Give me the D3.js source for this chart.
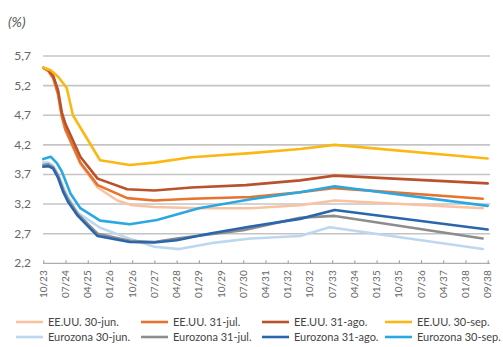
<!DOCTYPE html>
<html>
<head>
<meta charset="utf-8">
<script src="https://cdn.jsdelivr.net/npm/d3@7/dist/d3.min.js"></script>
<style>
  html, body { margin: 0; padding: 0; background: #fff; }
  svg { display: block; font-family: Lato, "Open Sans", sans-serif; }
</style>
</head>
<body>
<svg id="chart" width="503" height="347"></svg>
<script>
// Horizon in months from 10/23; tick labels every 9 months
const xLabels = ["10/23","07/24","04/25","01/26","10/26","07/27","04/28","01/29","10/29","07/30",
  "04/31","01/32","10/32","07/33","04/34","01/35","10/35","07/36","04/37","01/38","09/38"];
const yTicks = [2.2, 2.7, 3.2, 3.7, 4.2, 4.7, 5.2, 5.7];

// [month, rate %]
const usJun = [[0,5.50],[2,5.45],[4,5.33],[6,5.05],[7.5,4.68],[9,4.45],[15,3.88],[22,3.48],[30,3.26],[36,3.18],[45,3.15],[63,3.13],[84,3.13],[104,3.18],[118,3.26],[178,3.13]];
const usJul = [[0,5.50],[2,5.45],[4,5.33],[6,5.05],[7.5,4.68],[9,4.45],[15,3.90],[22,3.52],[34,3.30],[45,3.26],[60,3.29],[84,3.32],[104,3.40],[118,3.47],[178,3.29]];
const usAgo = [[0,5.50],[2,5.47],[4,5.37],[6,5.12],[7.5,4.75],[9,4.55],[15,4.00],[22,3.63],[34,3.45],[45,3.43],[60,3.48],[82,3.52],[104,3.60],[118,3.68],[180,3.55]];
const usSep = [[0,5.50],[3,5.46],[6,5.35],[9.5,5.16],[12,4.70],[23,3.94],[35,3.86],[45,3.90],[60,3.99],[84,4.06],[104,4.13],[118,4.20],[180,3.97]];
const euJun = [[0,3.90],[2,3.90],[4,3.85],[6,3.70],[8,3.50],[10,3.32],[14,3.05],[23,2.80],[36,2.60],[45,2.48],[55,2.44],[68,2.54],[84,2.62],[104,2.66],[116,2.81],[178,2.44]];
const euJul = [[0,3.86],[2,3.87],[4,3.82],[6,3.68],[8,3.45],[10,3.28],[14,3.03],[22,2.70],[35,2.58],[45,2.56],[54,2.62],[81,2.76],[104,2.97],[118,3.00],[178,2.62]];
const euAgo = [[0,3.83],[2,3.84],[4,3.80],[6,3.64],[8,3.41],[10,3.24],[14,3.00],[22,2.66],[35,2.56],[45,2.55],[54,2.59],[67,2.70],[84,2.82],[104,2.95],[118,3.10],[180,2.77]];
const euSep = [[0,3.96],[3,4.00],[5.5,3.89],[7.5,3.75],[11,3.38],[15,3.13],[23,2.92],[35,2.86],[46,2.93],[63,3.13],[84,3.28],[104,3.40],[118,3.50],[180,3.17]];

const seriesNames = ["EE.UU. 30-jun.","EE.UU. 31-jul.","EE.UU. 31-ago.","EE.UU. 30-sep.",
  "Eurozona 30-jun.","Eurozona 31-jul.","Eurozona 31-ago.","Eurozona 30-sep."];
const seriesData = [usJun, usJul, usAgo, usSep, euJun, euJul, euAgo, euSep];
const seriesColors = ["#f9c3a2","#e8732d","#b9522b","#fbb813","#bdd7ef","#8d8d8d","#2966ad","#2aa8e2"];

const svg = d3.select("#chart");
const x = d3.scaleLinear().domain([0, 180]).range([43.3, 487.7]);
const y = d3.scaleLinear().domain([2.2, 5.7]).range([263.3, 56]);
const fmt = d => d.toFixed(1).replace(".", ",");

// Unit label
svg.append("text").attr("x", 8).attr("y", 27)
  .attr("font-size", 14).attr("font-style", "italic").attr("fill", "#555").text("(%)");

// Horizontal gridlines
svg.append("g").selectAll("line").data(yTicks.filter(d => d > 2.2)).join("line")
  .attr("x1", 43).attr("x2", 490)
  .attr("y1", d => y(d)).attr("y2", d => y(d))
  .attr("stroke", "#c4c4c4").attr("stroke-width", 1.6);

// Y tick labels
svg.append("g").selectAll("text").data(yTicks).join("text")
  .attr("x", 31).attr("y", d => y(d) + 4)
  .attr("text-anchor", "end").attr("font-size", 12).attr("fill", "#666")
  .text(fmt);

// X axis with small upward ticks
const xAxis = d3.axisTop(x)
  .tickValues(xLabels.map((d, i) => i * 9))
  .tickSize(3).tickSizeOuter(0).tickFormat("");
const ax = svg.append("g").attr("transform", `translate(0,${y(2.2)})`).call(xAxis);
ax.select(".domain").attr("stroke", "#9a9a9a").attr("stroke-width", 1)
  .attr("d", `M43,0H490`);
ax.selectAll(".tick line").attr("stroke", "#9a9a9a");

svg.append("g").selectAll("text").data(xLabels).join("text")
  .attr("transform", (d, i) => `translate(${x(i * 9) + 3.5},${y(2.2) + 7}) rotate(-90)`)
  .attr("text-anchor", "end").attr("font-size", 10).attr("fill", "#666")
  .text(d => d);

// Curves
const line = d3.line().x(d => x(d[0])).y(d => y(d[1])).curve(d3.curveLinear);
svg.append("g").selectAll("path").data(seriesData).join("path")
  .attr("d", line)
  .attr("fill", "none")
  .attr("stroke", (d, i) => seriesColors[i])
  .attr("stroke-width", 2.6)
  .attr("stroke-linejoin", "round")
  .attr("stroke-linecap", "round");

// Legend: two rows, four columns
const legendCols = [16, 141, 262, 385];
const legendRows = [322, 337];
const legendOrder = [0, 1, 2, 3, 4, 5, 6, 7];
const leg = svg.append("g").selectAll("g").data(legendOrder).join("g")
  .attr("transform", i => {
    const col = i < 4 ? i : i - 4;
    const row = i < 4 ? 0 : 1;
    return `translate(${legendCols[col]},${legendRows[row]})`;
  });
leg.append("line").attr("x1", 0).attr("x2", 27).attr("y1", 0).attr("y2", 0)
  .attr("stroke", i => seriesColors[i]).attr("stroke-width", 2.6);
leg.append("text").attr("x", 32).attr("y", 4)
  .attr("font-size", 11).attr("fill", "#444")
  .text(i => seriesNames[i]);
</script>
</body>
</html>
